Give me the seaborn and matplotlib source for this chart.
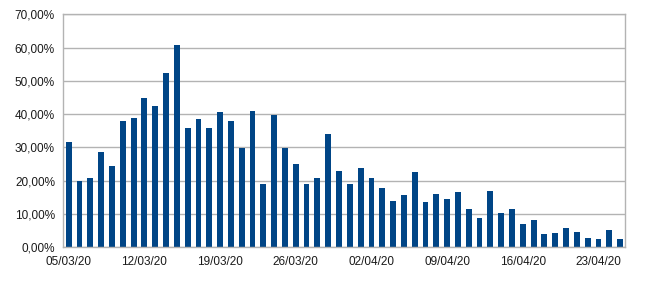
import matplotlib
matplotlib.use("Agg")
import matplotlib.pyplot as plt
import seaborn as sns
import pandas as pd
import numpy as np
from matplotlib.ticker import FixedLocator, FuncFormatter

dates = pd.date_range("2020-03-05", "2020-04-25", freq="D").strftime("%d/%m/%y").tolist()
values = [31.6, 20.0, 20.8, 28.7, 24.4, 38.0, 38.9, 44.9, 42.4, 52.4,
          60.9, 35.9, 38.4, 35.9, 40.6, 38.0, 29.9, 40.9, 18.9, 39.8,
          29.9, 24.9, 18.9, 20.9, 33.9, 22.9, 18.9, 23.9, 20.8, 17.9,
          13.9, 15.7, 22.5, 13.6, 15.9, 14.4, 16.5, 11.5, 8.8, 16.9,
          10.3, 11.4, 6.9, 8.3, 3.9, 4.2, 5.9, 4.7, 2.8, 2.4, 5.2, 2.5]
label_dates = ["05/03/20", "12/03/20", "19/03/20", "26/03/20",
               "02/04/20", "09/04/20", "16/04/20", "23/04/20"]

sns.set_style("white")
plt.rcParams["font.family"] = ["Liberation Sans", "DejaVu Sans"]

df = pd.DataFrame({"date": dates, "value": values})

fig = plt.figure(figsize=(6.5, 2.85), dpi=100)
ax = fig.add_axes([0.0974, 0.1323, 0.8649, 0.8177])
sns.barplot(data=df, x="date", y="value", color="#004586", saturation=1,
            width=0.54, ax=ax, order=dates, linewidth=0, edgecolor="none")

ax.set_xlim(-0.5, len(dates) - 0.5)
ax.set_ylim(0, 70)
ax.set_yticks(np.arange(0, 71, 10))
ax.yaxis.set_major_formatter(FuncFormatter(lambda v, p: f"{v:.2f}".replace(".", ",") + "%"))
ax.grid(axis="y", color="#b3b3b3", linewidth=1)
ax.set_axisbelow(True)

label_pos = [dates.index(d) for d in label_dates]
ax.xaxis.set_major_locator(FixedLocator([p - 0.5 for p in label_pos]))
ax.xaxis.set_minor_locator(FixedLocator(label_pos))
ax.set_xticklabels([""] * len(label_pos))
ax.set_xticklabels(label_dates, minor=True)
ax.tick_params(axis="x", which="major", length=4, width=1, color="#b3b3b3", direction="out")
ax.tick_params(axis="x", which="minor", length=0, labelsize=8.5, pad=6, labelcolor="#1a1a1a")
ax.tick_params(axis="y", length=4, width=1, color="#b3b3b3", direction="out", labelsize=8.5,
               pad=2, labelcolor="#1a1a1a")
ax.set_xlabel("")
ax.set_ylabel("")
for side in ["left", "bottom", "right", "top"]:
    ax.spines[side].set_color("#b3b3b3")
    ax.spines[side].set_linewidth(1)
    ax.spines[side].set_visible(True)

fig.savefig("out.png", dpi=100, facecolor="white")
